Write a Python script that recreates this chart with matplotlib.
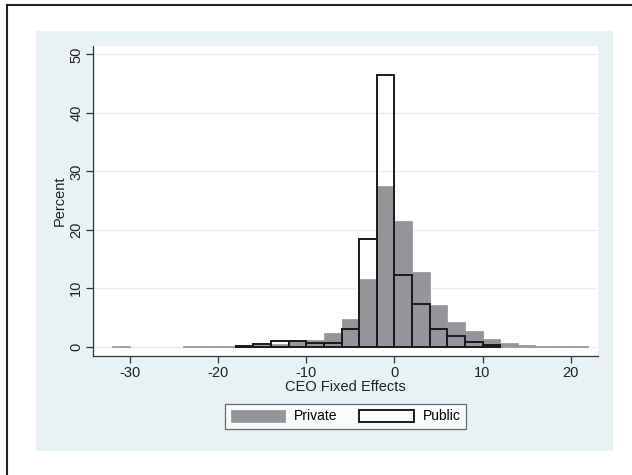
import numpy as np
import matplotlib
matplotlib.use("Agg")
import matplotlib.pyplot as plt
from matplotlib.patches import Rectangle
from matplotlib.lines import Line2D

plt.rcParams['font.family'] = ['Liberation Sans', 'DejaVu Sans']
plt.rcParams['axes.unicode_minus'] = False

# Bin edges (width 2) from -32 to 22
bin_left = np.arange(-32, 22, 2)
private = [0.1, 0, 0, 0, 0.05, 0.05, 0.05, 0.1, 0.3, 0.5, 1.2, 1.2, 2.4, 4.8,
           11.6, 27.5, 21.5, 12.8, 7.2, 4.3, 2.6, 1.35, 0.7, 0.3, 0.15, 0.1, 0.1]
public = [0, 0, 0, 0, 0, 0, 0, 0.1, 0.4, 1.0, 1.0, 0.7, 0.7, 3.1,
          18.5, 46.5, 12.2, 7.3, 3.1, 1.8, 0.8, 0.3, 0, 0, 0, 0, 0]
x_ticks = [-30, -20, -10, 0, 10, 20]
y_ticks = [0, 10, 20, 30, 40, 50]

W, H = 632, 475
fig = plt.figure(figsize=(W/100, H/100), dpi=100)
fig.patch.set_facecolor('white')

# outer frame (left & top edges visible)
fig.add_artist(Line2D([7/W, 7/W], [0, 1-5/H], color='#222222', lw=1.5, transform=fig.transFigure))
fig.add_artist(Line2D([7/W, 1], [1-5/H, 1-5/H], color='#222222', lw=1.5, transform=fig.transFigure))

# graph region background
fig.add_artist(Rectangle((36/W, 1-451/H), 577/W, 420/H, transform=fig.transFigure,
                         facecolor='#e8f1f3', edgecolor='none', zorder=0))

ax = fig.add_axes([93/W, 1-356/H, (598-93)/W, (356-45.7)/H])
ax.set_facecolor('white')

bl = np.array(bin_left, dtype=float)
pv = np.array(private)
pu = np.array(public)
mp = pv > 0
ax.bar(bl[mp], pv[mp], width=2, align='edge', color='#939598', edgecolor='#939598',
       linewidth=0.5, zorder=2, label='Private')
mu = pu > 0
ax.bar(bl[mu], pu[mu], width=2, align='edge', facecolor='none', edgecolor='#1a1a1a',
       linewidth=1.4, zorder=3, label='Public')

ax.set_xlim(-34.2, 23.1)
ax.set_ylim(-1.6, 51.5)
ax.set_xticks(x_ticks)
ax.set_yticks(y_ticks)
ax.yaxis.grid(True, color='#e6eff1', linewidth=1.0, zorder=0)
ax.set_axisbelow(True)
for s in ['top', 'right']:
    ax.spines[s].set_visible(False)
for s in ['left', 'bottom']:
    ax.spines[s].set_color('#333333')
    ax.spines[s].set_linewidth(0.9)
ax.tick_params(axis='both', direction='out', length=5, width=0.9, color='#333333',
               labelsize=10.5, labelcolor='#222222', pad=2)
for lab in ax.get_yticklabels():
    lab.set_rotation(90)
    lab.set_va('center')
ax.set_xlabel('CEO Fixed Effects', fontsize=10.5, color='#222222', labelpad=0)
ax.set_ylabel('Percent', fontsize=10.5, color='#222222', labelpad=2)

leg = ax.legend(loc='center', bbox_to_anchor=(345.5/W, 1-416.5/H), bbox_transform=fig.transFigure,
                ncol=2, fontsize=10, frameon=True, fancybox=False, edgecolor='#444444',
                handlelength=3.9, handleheight=1.0, handletextpad=0.65, columnspacing=1.6,
                borderpad=0.4)
leg.get_frame().set_linewidth(0.9)

fig.savefig('out.png', dpi=100)
